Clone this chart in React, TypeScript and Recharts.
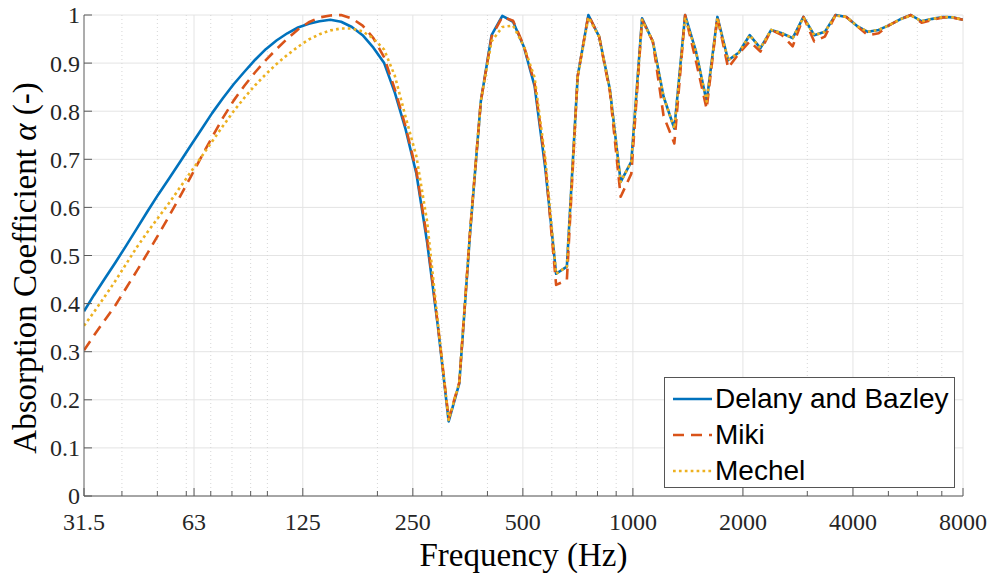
import { CartesianGrid, Legend, Line, LineChart, ReferenceLine, XAxis, YAxis } from "recharts";

// frequency samples (Hz)
const FREQUENCY_HZ = [
  31.5,
  33.5, 35.85, 38.36, 41.05, 43.93, 47.01, 50.31, 53.84, 57.61, 61.65,
  65.97, 70.6, 75.55, 80.85, 86.52, 92.59, 99.01, 105.9, 113.4, 121.3,
  129.8, 138.9, 148.7, 159.1, 170.3, 182.2, 195, 208.7, 223.3, 238.9,
  255.7, 273.6, 292.8, 313.3, 335, 358.5, 383.6, 410.5, 439.3, 470.1,
  503.1, 538.4, 576.1, 616.5, 659.7, 706, 755.5, 808.5, 865.2, 925.9,
  990.1, 1059.5, 1133.8, 1213.3, 1298.4, 1389.4, 1486.9, 1591.1, 1702.7, 1822.1,
  1949.8, 2086.5, 2232.8, 2389.4, 2557, 2736.2, 2928.1, 3133.4, 3350.2, 3584.8,
  3836.3, 4105.3, 4393.2, 4701.1, 5030.7, 5383.8, 5761.2, 6165.1, 6597.4, 7059.9,
  7554.8,
  8000
];

const DELANY_BAZLEY = [
  0.384,
  0.417, 0.451, 0.485, 0.52, 0.556, 0.592, 0.627, 0.66, 0.694, 0.728,
  0.762, 0.796, 0.827, 0.856, 0.882, 0.907, 0.929, 0.947, 0.962, 0.974,
  0.982, 0.987, 0.99, 0.986, 0.975, 0.958, 0.932, 0.9, 0.838, 0.762,
  0.67, 0.527, 0.352, 0.155, 0.234, 0.546, 0.82, 0.958, 0.998, 0.986,
  0.934, 0.852, 0.68, 0.462, 0.477, 0.872, 1.0, 0.955, 0.845, 0.653,
  0.695, 0.993, 0.945, 0.83, 0.764, 1.0, 0.925, 0.82, 0.996, 0.906,
  0.922, 0.958, 0.931, 0.969, 0.962, 0.952, 0.996, 0.958, 0.965, 1.0,
  0.996, 0.977, 0.965, 0.969, 0.979, 0.991, 1.0, 0.987, 0.992, 0.996,
  0.995,
  0.99
];

const MIKI = [
  0.303,
  0.333, 0.365, 0.396, 0.432, 0.468, 0.505, 0.543, 0.582, 0.622, 0.663,
  0.705, 0.746, 0.786, 0.822, 0.853, 0.881, 0.906, 0.929, 0.951, 0.97,
  0.985, 0.995, 0.999, 1.0, 0.993, 0.978, 0.952, 0.912, 0.845, 0.768,
  0.675, 0.535, 0.355, 0.16, 0.236, 0.55, 0.82, 0.955, 0.996, 0.988,
  0.936, 0.858, 0.69, 0.439, 0.449, 0.872, 1.0, 0.955, 0.84, 0.622,
  0.67, 0.99, 0.945, 0.79, 0.733, 1.0, 0.905, 0.805, 0.996, 0.89,
  0.92, 0.945, 0.924, 0.969, 0.958, 0.935, 0.996, 0.945, 0.955, 1.0,
  0.996, 0.977, 0.958, 0.962, 0.979, 0.991, 1.0, 0.984, 0.99, 0.995,
  0.994,
  0.99
];

const MECHEL = [
  0.354,
  0.382, 0.414, 0.447, 0.482, 0.517, 0.549, 0.579, 0.609, 0.641, 0.673,
  0.705, 0.737, 0.769, 0.8, 0.828, 0.854, 0.877, 0.898, 0.917, 0.934,
  0.949, 0.96, 0.968, 0.972, 0.972, 0.966, 0.951, 0.928, 0.873, 0.788,
  0.706, 0.57, 0.36, 0.158, 0.236, 0.55, 0.82, 0.945, 0.975, 0.978,
  0.935, 0.87, 0.7, 0.462, 0.477, 0.87, 0.995, 0.955, 0.845, 0.653,
  0.695, 0.99, 0.945, 0.83, 0.764, 0.995, 0.925, 0.82, 0.994, 0.906,
  0.922, 0.958, 0.931, 0.969, 0.962, 0.952, 0.995, 0.958, 0.965, 0.999,
  0.996, 0.977, 0.965, 0.969, 0.979, 0.991, 0.999, 0.987, 0.992, 0.996,
  0.995,
  0.99
];

const X_TICKS = [31.5, 63, 125, 250, 500, 1000, 2000, 4000, 8000];
const X_MINOR = [40, 50, 60, 70, 80, 90, 100, 200, 300, 400, 600, 700, 800, 900, 3000, 5000, 6000, 7000];
const Y_TICKS = [0, 0.1, 0.2, 0.3, 0.4, 0.5, 0.6, 0.7, 0.8, 0.9, 1];

const SERIES = [
  { key: "delany", name: "Delany and Bazley", color: "#0072BD", dash: undefined as string | undefined },
  { key: "miki", name: "Miki", color: "#D95319", dash: "11 7" },
  { key: "mechel", name: "Mechel", color: "#EDB120", dash: "2.7 3.2" }
];

const W = 991;
const H = 573;
const PLOT_LEFT = 84;
const PLOT_TOP = 15;
const PLOT_RIGHT = 963;
const PLOT_BOTTOM = 496;
const AXIS = "#5a5a5a";
const GRID = "#e4e4e4";
const SERIF = "'Liberation Serif', 'Times New Roman', serif";
const SANS = "'Liberation Sans', Arial, sans-serif";

const data = FREQUENCY_HZ.map((f, i) => ({ f, delany: DELANY_BAZLEY[i], miki: MIKI[i], mechel: MECHEL[i] }));
const allXTicks = [...X_TICKS, ...X_MINOR].sort((a, b) => a - b);

function XTick({ x, payload }: any) {
  const major = X_TICKS.includes(payload.value);
  return (
    <g>
      <line x1={x} x2={x} y1={PLOT_BOTTOM} y2={PLOT_BOTTOM - (major ? 8 : 5)} stroke={AXIS} />
      {major && (
        <text x={x} y={PLOT_BOTTOM + 34} textAnchor="middle" fontSize={24} fill="#262626" fontFamily={SERIF}>
          {payload.value}
        </text>
      )}
    </g>
  );
}

function YTick({ y, payload }: any) {
  return (
    <g>
      <line x1={PLOT_LEFT} x2={PLOT_LEFT + 8} y1={y} y2={y} stroke={AXIS} />
      <text x={PLOT_LEFT - 4} y={y} dy="0.35em" textAnchor="end" fontSize={24} fill="#262626" fontFamily={SERIF}>
        {String(Math.round(payload.value * 10) / 10)}
      </text>
    </g>
  );
}

function renderLegend() {
  return (
    <div style={{ width: 291, height: 111, boxSizing: "border-box", border: "1px solid #555", background: "#fff", paddingTop: 3 }}>
      {SERIES.map((s) => (
        <div key={s.key} style={{ display: "flex", alignItems: "center", height: 36 }}>
          <svg width={48} height={10} style={{ flex: "none" }}>
            <line x1={8} x2={47} y1={5} y2={5} stroke={s.color} strokeWidth={2.6} strokeDasharray={s.dash} />
          </svg>
          <span style={{ fontFamily: SANS, fontSize: 28, lineHeight: "36px", color: "#000", marginLeft: 2, whiteSpace: "nowrap" }}>
            {s.name}
          </span>
        </div>
      ))}
    </div>
  );
}

export default function App() {
  return (
    <div style={{ position: "absolute", left: 0, top: 0, width: W, height: H, background: "#fff" }}>
      <LineChart width={W} height={H} data={data} margin={{ top: PLOT_TOP, right: W - PLOT_RIGHT, left: 0, bottom: 0 }}>
        <CartesianGrid stroke={GRID} vertical={false} />
        {X_MINOR.map((v) => (
          <ReferenceLine key={`m${v}`} x={v} stroke="#d6d6d6" strokeDasharray="1 3" />
        ))}
        {X_TICKS.slice(1).map((v) => (
          <ReferenceLine key={`M${v}`} x={v} stroke={GRID} />
        ))}
        <XAxis
          dataKey="f"
          type="number"
          scale="log"
          domain={[31.5, 8000]}
          allowDataOverflow
          ticks={allXTicks}
          interval={0}
          tick={XTick}
          tickLine={false}
          tickSize={0}
          tickMargin={0}
          axisLine={{ stroke: AXIS }}
          height={H - PLOT_BOTTOM}
          label={{
            content: () => (
              <text x={(PLOT_LEFT + PLOT_RIGHT) / 2} y={566} textAnchor="middle" fontSize={33} fill="#000" fontFamily={SERIF}>
                Frequency (Hz)
              </text>
            )
          }}
        />
        <YAxis
          type="number"
          domain={[0, 1]}
          ticks={Y_TICKS}
          interval={0}
          tick={YTick}
          tickLine={false}
          tickSize={0}
          tickMargin={0}
          axisLine={{ stroke: AXIS }}
          width={PLOT_LEFT}
          label={{
            content: () => (
              <text transform="translate(36,268) rotate(-90)" textAnchor="middle" fontSize={33} fill="#000" fontFamily={SERIF}>
                Absorption Coefficient <tspan fontStyle="italic">α</tspan> (-)
              </text>
            )
          }}
        />
        <Legend
          layout="vertical"
          align="center"
          verticalAlign="middle"
          content={renderLegend}
          wrapperStyle={{ left: 664, top: 377, width: 291 }}
        />
        {SERIES.map((s) => (
          <Line
            key={s.key}
            dataKey={s.key}
            name={s.name}
            type="linear"
            stroke={s.color}
            strokeWidth={2.6}
            strokeDasharray={s.dash}
            strokeLinejoin="round"
            dot={false}
            activeDot={false}
            isAnimationActive={false}
          />
        ))}
      </LineChart>
    </div>
  );
}
